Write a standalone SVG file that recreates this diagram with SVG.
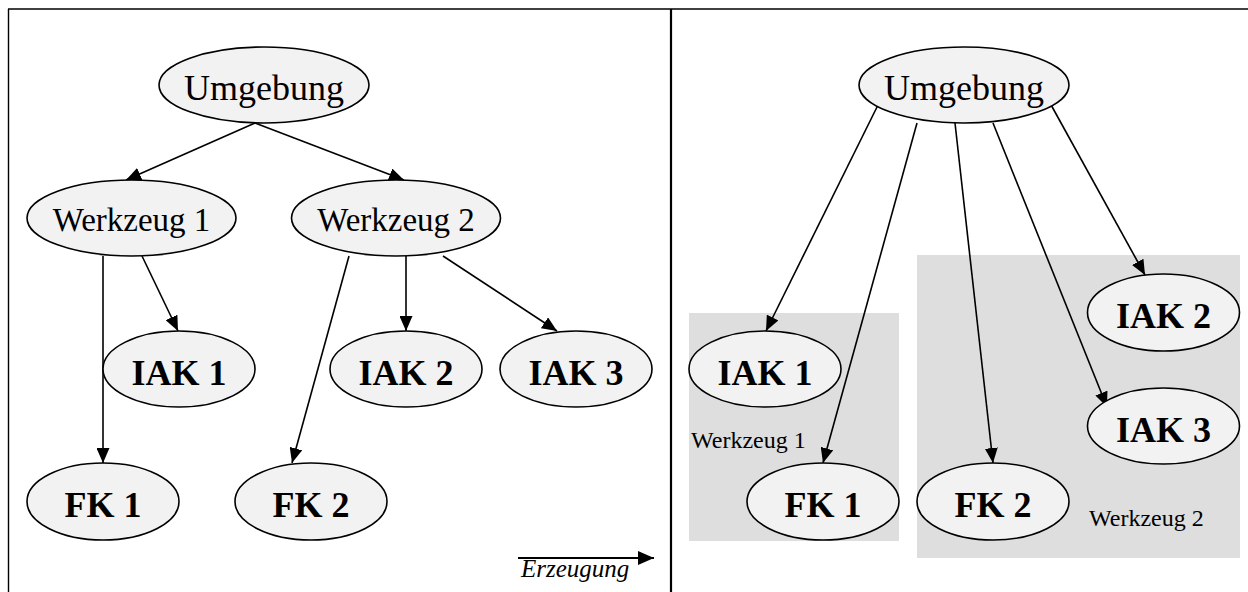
<svg xmlns="http://www.w3.org/2000/svg" width="1248" height="592" viewBox="0 0 1248 592">
  <defs>
    <marker id="arrow" viewBox="0 0 15 13" refX="15" refY="6.5" markerWidth="15" markerHeight="13" markerUnits="userSpaceOnUse" orient="auto">
      <path d="M0,0 L15,6.5 L0,13 Z" fill="#000"/>
    </marker>
    <marker id="arrow-big" viewBox="0 0 16 14" refX="16" refY="7" markerWidth="16" markerHeight="14" markerUnits="userSpaceOnUse" orient="auto">
      <path d="M0,0 L16,7 L0,14 Z" fill="#000"/>
    </marker>
    <style>
      .node ellipse { fill: #f2f2f2; stroke: #000; stroke-width: 1.6; }
      .lbl { font-family: "Liberation Serif", "Times New Roman", serif; fill: #000; text-anchor: middle; }
      .tool { font-size: 33px; }
      .env { font-size: 36px; }
      .comp { font-size: 36px; font-weight: bold; }
      .group { fill: #dedede; }
      .glbl { font-family: "Liberation Serif", "Times New Roman", serif; font-size: 24px; fill: #000; }
      .edge { stroke: #000; stroke-width: 1.6; fill: none; marker-end: url(#arrow); }
      .frame { stroke: #000; fill: none; }
    </style>
  </defs>

  <rect width="1248" height="592" fill="#fff"/>

  <!-- frame and panel divider -->
  <g id="frame">
    <line class="frame" x1="8" y1="9" x2="1248" y2="9" stroke-width="1.6"/>
    <line class="frame" x1="8.5" y1="9" x2="8.5" y2="592" stroke-width="1.4"/>
    <line class="frame" x1="671" y1="9" x2="671" y2="592" stroke-width="2.2"/>
  </g>

  <!-- tool groups (right panel) -->
  <g id="group-werkzeug-1">
    <rect class="group" x="689" y="313" width="210" height="228"/>
    <text class="glbl" x="691" y="448">Werkzeug 1</text>
  </g>
  <g id="group-werkzeug-2">
    <rect class="group" x="917" y="255" width="323" height="303"/>
    <text class="glbl" x="1089" y="526">Werkzeug 2</text>
  </g>

  <!-- connectors -->
  <g id="connectors">
    <!-- left panel: hierarchical creation -->
    <line class="edge" x1="255" y1="123" x2="126" y2="180"/>
    <line class="edge" x1="255" y1="123" x2="404" y2="180"/>
    <line class="edge" x1="103" y1="256" x2="103" y2="463"/>
    <line class="edge" x1="142" y1="256" x2="178" y2="331"/>
    <line class="edge" x1="349" y1="256" x2="292" y2="463"/>
    <line class="edge" x1="406" y1="256" x2="406" y2="331"/>
    <line class="edge" x1="443" y1="256" x2="557" y2="331"/>
    <!-- right panel: flat creation -->
    <line class="edge" x1="879" y1="103" x2="766" y2="331"/>
    <line class="edge" x1="917" y1="123" x2="823" y2="463"/>
    <line class="edge" x1="955" y1="123" x2="993" y2="463"/>
    <line class="edge" x1="993" y1="123" x2="1107" y2="407"/>
    <line class="edge" x1="1050" y1="103" x2="1145" y2="275"/>
    <!-- direction legend -->
    <line x1="518" y1="558" x2="654" y2="558" stroke="#000" stroke-width="2" marker-end="url(#arrow-big)"/>
  </g>
  <text id="legend" x="521" y="577" font-family="'Liberation Serif', 'Times New Roman', serif" font-size="25" font-style="italic">Erzeugung</text>

  <!-- left panel nodes -->
  <g id="l-umgebung" class="node">
    <ellipse cx="264" cy="85" rx="105" ry="38"/>
    <text class="lbl env" x="264" y="100">Umgebung</text>
  </g>
  <g id="l-werkzeug-1" class="node">
    <ellipse cx="131.5" cy="218" rx="104.5" ry="38"/>
    <text class="lbl tool" x="131.5" y="231">Werkzeug 1</text>
  </g>
  <g id="l-werkzeug-2" class="node">
    <ellipse cx="396" cy="218" rx="104.5" ry="38"/>
    <text class="lbl tool" x="396" y="231">Werkzeug 2</text>
  </g>
  <g id="l-iak-1" class="node">
    <ellipse cx="179" cy="369" rx="76" ry="38"/>
    <text class="lbl comp" x="179" y="385">IAK 1</text>
  </g>
  <g id="l-iak-2" class="node">
    <ellipse cx="406" cy="369" rx="76" ry="38"/>
    <text class="lbl comp" x="406" y="385">IAK 2</text>
  </g>
  <g id="l-iak-3" class="node">
    <ellipse cx="576" cy="369" rx="76" ry="38"/>
    <text class="lbl comp" x="576" y="385">IAK 3</text>
  </g>
  <g id="l-fk-1" class="node">
    <ellipse cx="103" cy="501.5" rx="76" ry="38.5"/>
    <text class="lbl comp" x="103" y="517">FK 1</text>
  </g>
  <g id="l-fk-2" class="node">
    <ellipse cx="311" cy="501.5" rx="76" ry="38.5"/>
    <text class="lbl comp" x="311" y="517">FK 2</text>
  </g>

  <!-- right panel nodes -->
  <g id="r-umgebung" class="node">
    <ellipse cx="964" cy="85" rx="105" ry="38"/>
    <text class="lbl env" x="964" y="100">Umgebung</text>
  </g>
  <g id="r-iak-1" class="node">
    <ellipse cx="765" cy="369" rx="76" ry="38"/>
    <text class="lbl comp" x="765" y="385">IAK 1</text>
  </g>
  <g id="r-fk-1" class="node">
    <ellipse cx="823" cy="501.5" rx="76" ry="38.5"/>
    <text class="lbl comp" x="823" y="517">FK 1</text>
  </g>
  <g id="r-fk-2" class="node">
    <ellipse cx="993" cy="501.5" rx="76" ry="38.5"/>
    <text class="lbl comp" x="993" y="517">FK 2</text>
  </g>
  <g id="r-iak-2" class="node">
    <ellipse cx="1163.5" cy="312.5" rx="76" ry="38.5"/>
    <text class="lbl comp" x="1163.5" y="328">IAK 2</text>
  </g>
  <g id="r-iak-3" class="node">
    <ellipse cx="1163.5" cy="426" rx="76" ry="38"/>
    <text class="lbl comp" x="1163.5" y="442">IAK 3</text>
  </g>
</svg>
